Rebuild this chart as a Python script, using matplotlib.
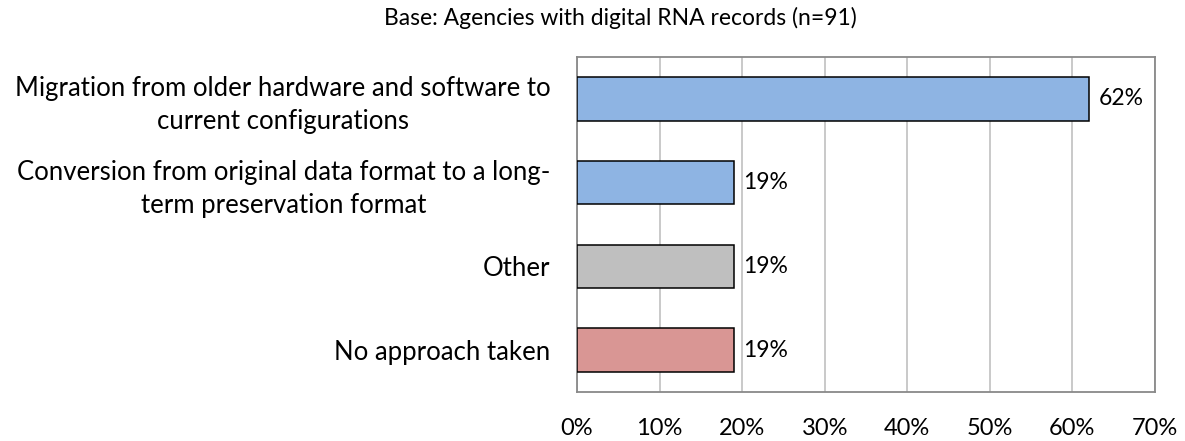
import matplotlib
matplotlib.use("Agg")
import matplotlib.pyplot as plt
from matplotlib.ticker import FuncFormatter

categories = [
    "Migration from older hardware and software to\ncurrent configurations",
    "Conversion from original data format to a long-\nterm preservation format",
    "Other",
    "No approach taken",
]
values = [62, 19, 19, 19]
colors = ["#8EB4E3", "#8EB4E3", "#BFBFBF", "#D99694"]
xticks = [0, 10, 20, 30, 40, 50, 60, 70]
title = "Base: Agencies with digital RNA records (n=91)"

plt.rcParams['font.family'] = ['Lato', 'DejaVu Sans']

fig = plt.figure(figsize=(11.85, 4.41), dpi=100)
ax = fig.add_axes([577/1185, 1-392/441, (1155-577)/1185, (392-57)/441])

y = list(range(len(categories)))
ax.barh(y, values, height=0.52, color=colors, edgecolor="black", linewidth=1.1, zorder=3)
ax.set_ylim(len(categories)-0.5, -0.5)
ax.set_xlim(0, 70)
ax.set_xticks(xticks)
ax.xaxis.set_major_formatter(FuncFormatter(lambda v, p: f"{int(v)}%"))
ax.set_yticks(y)
ax.set_yticklabels(categories, fontsize=18.5, linespacing=1.4)
for lab in ax.get_yticklabels():
    lab.set_multialignment("center")
ax.tick_params(axis="y", length=0, pad=19)
ax.tick_params(axis="x", length=0, pad=19, labelsize=17)
ax.grid(axis="x", color="#C0C0C0", linewidth=1.2, zorder=0)
for s in ax.spines.values():
    s.set_color("#898989")
    s.set_linewidth(1.3)

for yi, v in zip(y, values):
    ax.annotate(f"{v}%", (v, yi), xytext=(7, 0), textcoords="offset points",
                va="center", ha="left", fontsize=16.5, zorder=4)

fig.text(620/1185, 1-18/441, title, ha="center", va="center", fontsize=16.5)

fig.savefig("out.png", dpi=100)
